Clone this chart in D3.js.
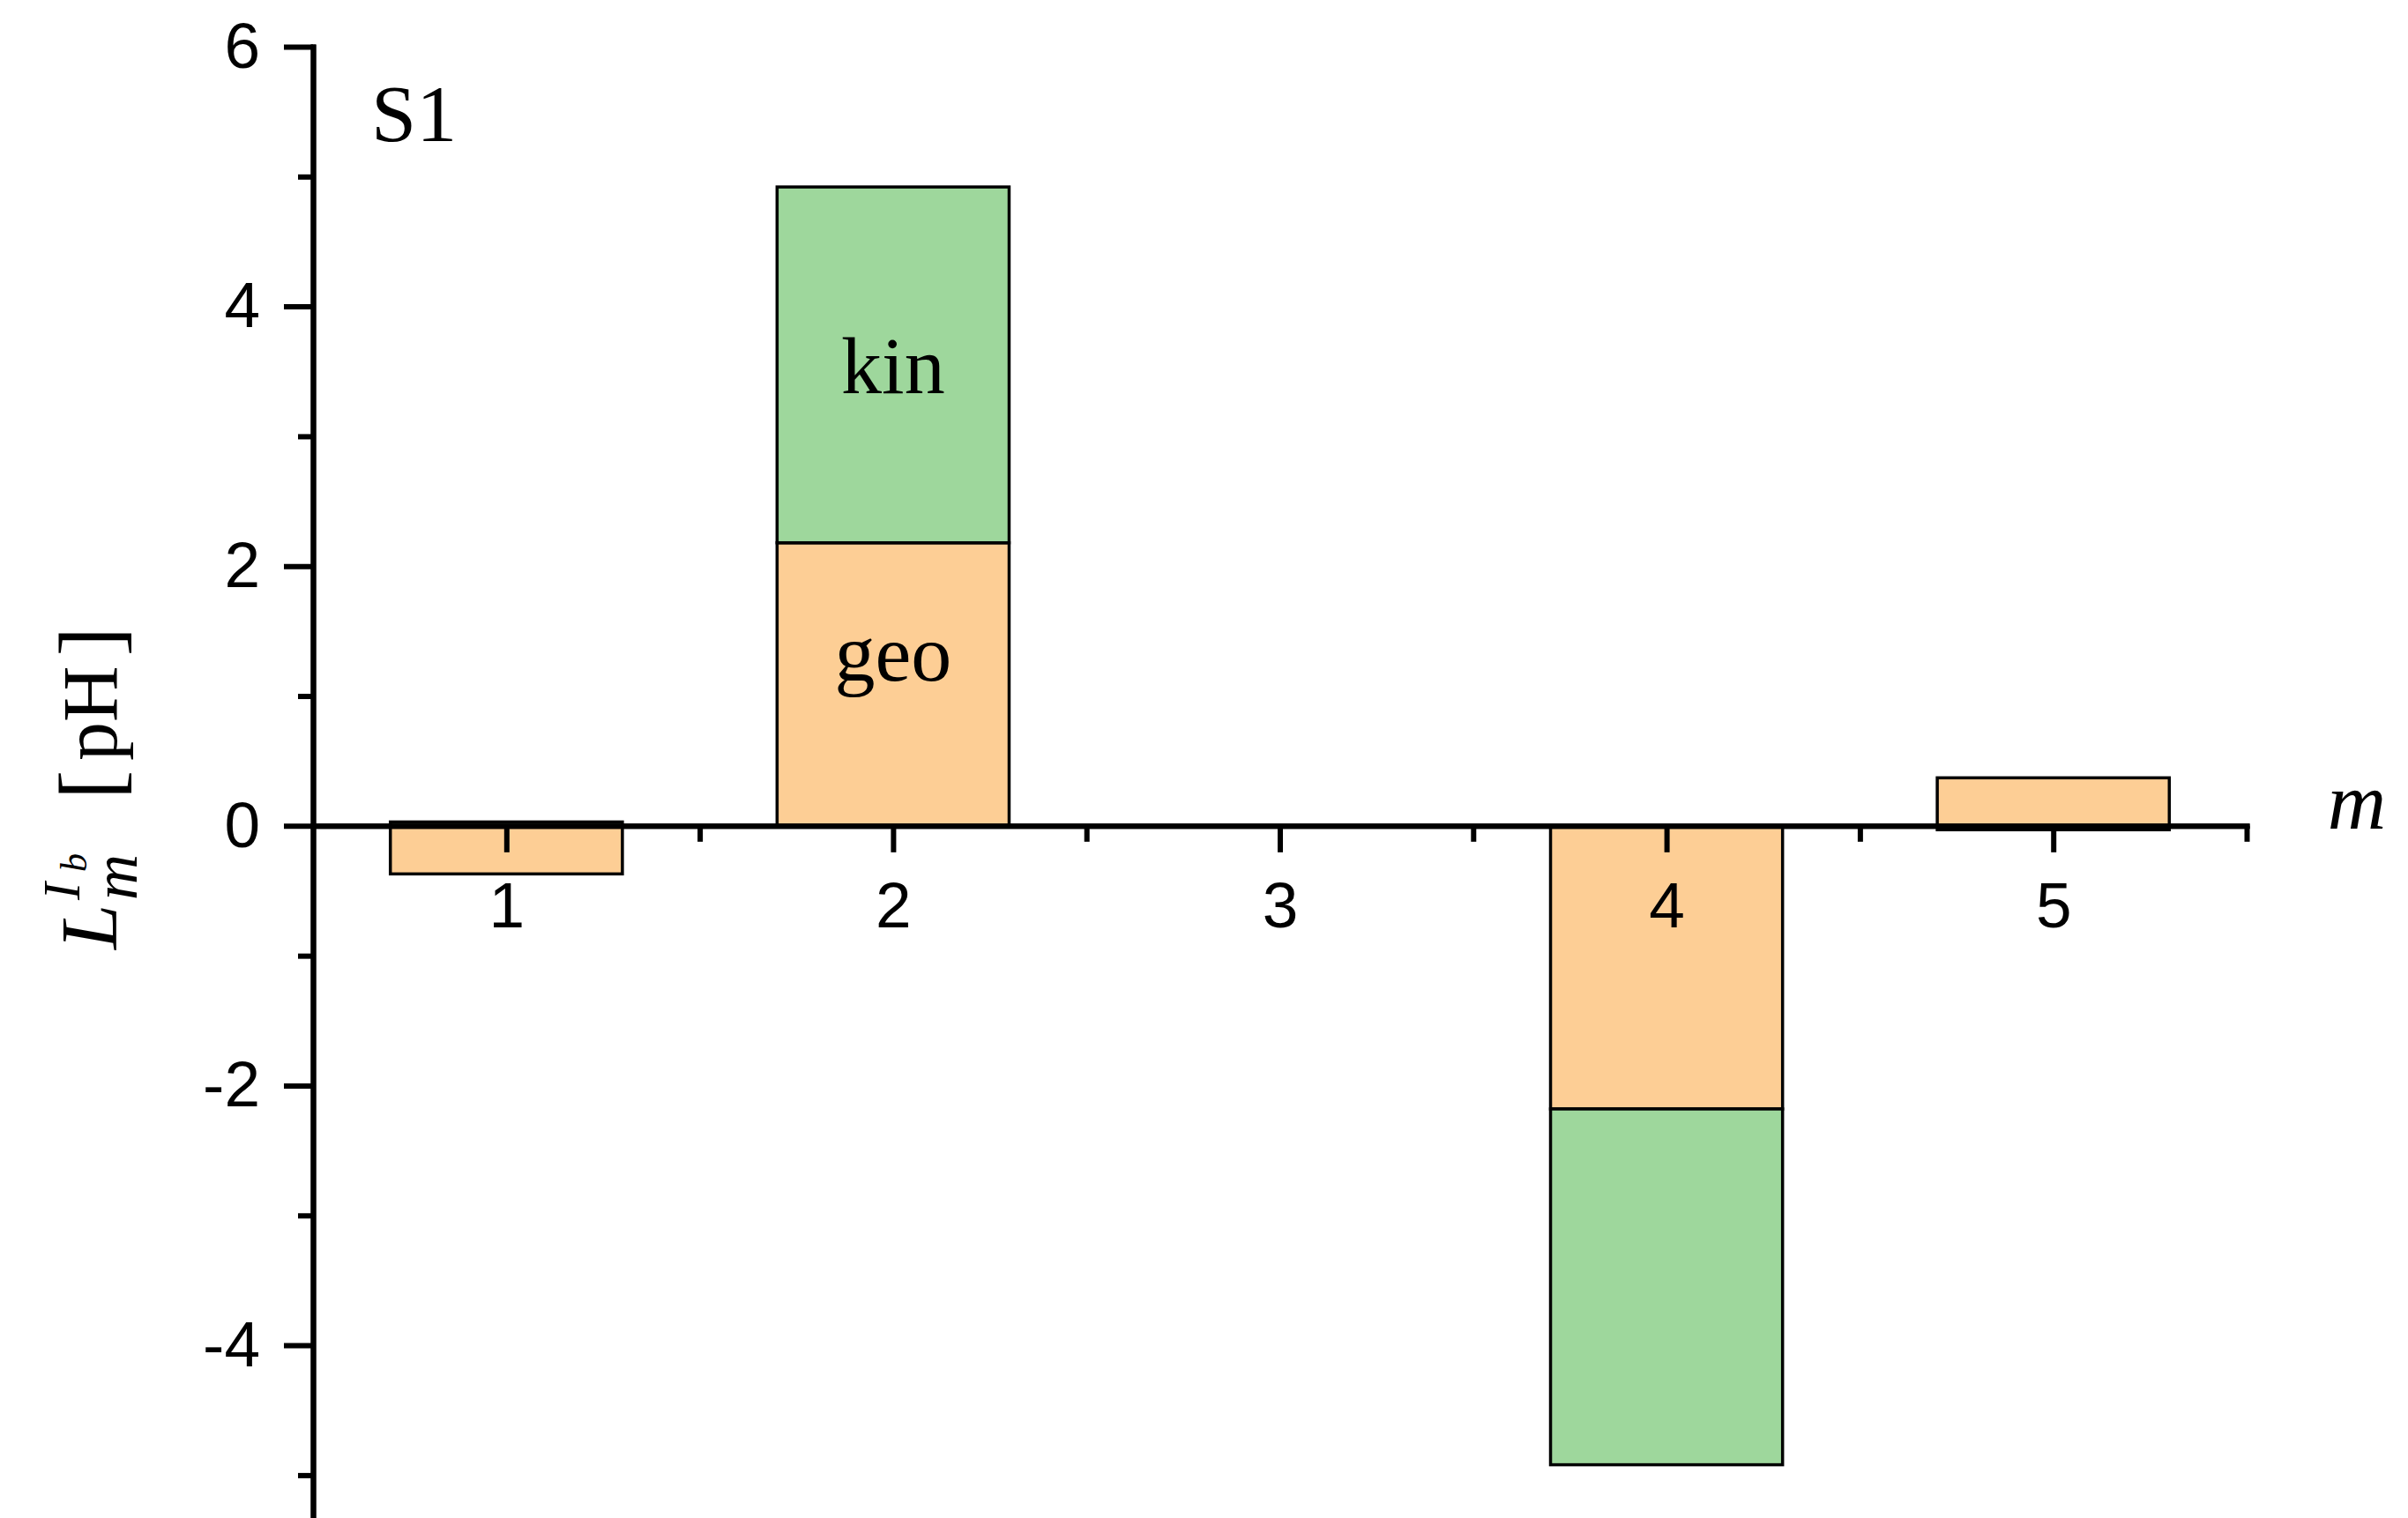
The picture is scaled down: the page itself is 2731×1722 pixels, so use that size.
<!DOCTYPE html>
<html>
<head>
<meta charset="utf-8">
<script src="https://cdn.jsdelivr.net/npm/d3@7"></script>
<style>
  body { margin: 0; background: #fff; }
  svg text { fill: #000; }
</style>
</head>
<body>
<div id="chart"></div>
<script>
// data
const modes = [1, 2, 3, 4, 5];
const geoValues = [-0.37, 2.18, 0, -2.18, 0.37];
const kinValues = [0.03, 2.74, 0, -2.74, -0.03];
const yMajorTicks = [-4, -2, 0, 2, 4, 6];
const yMinorTicks = [-5, -3, -1, 1, 3, 5];
const xMinorTicks = [1.5, 2.5, 3.5, 4.5, 5.5];

const width = 2731;
const height = 1722;

const geoColor = "#FDCE95";
const kinColor = "#9ED79C";

const svg = d3.select("#chart")
  .append("svg")
  .attr("width", width)
  .attr("height", height);

// scales
const x = d3.scaleLinear().domain([0.5, 5.5]).range([355, 2548]);
const y = d3.scaleLinear().domain([-5.33, 6]).range([1722, 53]);
const barWidth = 0.6;

// stacked (diverging) bars
const rows = modes.map((m, i) => ({ m: m, geo: geoValues[i], kin: kinValues[i] }));
const stack = d3.stack()
  .keys(["geo", "kin"])
  .offset(d3.stackOffsetDiverging);
const series = stack(rows);
const colors = { geo: geoColor, kin: kinColor };

svg.append("g")
  .selectAll("g")
  .data(series)
  .enter().append("g")
  .attr("fill", d => colors[d.key])
  .selectAll("rect")
  .data(d => d.filter(s => s[1] - s[0] !== 0))
  .enter().append("rect")
  .attr("x", d => x(d.data.m - barWidth / 2))
  .attr("width", d => x(d.data.m + barWidth / 2) - x(d.data.m - barWidth / 2))
  .attr("y", d => y(Math.max(d[0], d[1])))
  .attr("height", d => Math.abs(y(d[0]) - y(d[1])))
  .attr("stroke", "#000")
  .attr("stroke-width", 3.5);

// plain hyphen for negative labels, like the original
const fmt = d => String(d);

// y axis
svg.append("g")
  .attr("transform", "translate(" + x(0.5) + ",0)")
  .call(d3.axisLeft(y).tickValues(yMajorTicks).tickSize(33).tickSizeOuter(0).tickPadding(27).tickFormat(fmt));
svg.append("g")
  .attr("transform", "translate(" + x(0.5) + ",0)")
  .call(d3.axisLeft(y).tickValues(yMinorTicks).tickSize(17).tickSizeOuter(0).tickFormat(""));

// x axis along zero
svg.append("g")
  .attr("transform", "translate(0," + y(0) + ")")
  .call(d3.axisBottom(x).tickValues(modes).tickSize(30).tickSizeOuter(0).tickPadding(33).tickFormat(fmt));
svg.append("g")
  .attr("transform", "translate(0," + y(0) + ")")
  .call(d3.axisBottom(x).tickValues(xMinorTicks).tickSize(18).tickSizeOuter(0).tickFormat(""));

svg.selectAll(".domain").attr("stroke", "#000").attr("stroke-width", 6).attr("stroke-linecap", "square");
svg.selectAll(".tick line").attr("stroke", "#000").attr("stroke-width", 6);
svg.selectAll(".tick text")
  .attr("font-family", "'Liberation Sans', Arial, sans-serif")
  .attr("font-size", 73)
  .style("fill", "#000");

// text annotations
const serif = "'Liberation Serif', 'Times New Roman', serif";

svg.append("text")
  .attr("x", 421).attr("y", 160)
  .attr("font-family", serif).attr("font-size", 92)
  .text("S1");

svg.append("text")
  .attr("x", x(2)).attr("y", 446)
  .attr("text-anchor", "middle")
  .attr("font-family", serif).attr("font-size", 92)
  .text("kin");

svg.append("text")
  .attr("x", x(2)).attr("y", 772)
  .attr("text-anchor", "middle")
  .attr("font-family", serif).attr("font-size", 92)
  .text("geo");

svg.append("text")
  .attr("x", 2673).attr("y", 940)
  .attr("text-anchor", "middle")
  .attr("font-family", serif).attr("font-size", 92)
  .attr("font-style", "italic")
  .text("m");

// y label: L_m^{I_b} [pH], rotated
const yl = svg.append("g")
  .attr("transform", "translate(132,1077) rotate(-90)")
  .attr("font-family", serif);

yl.append("text").attr("x", 0).attr("y", 0)
  .attr("font-size", 92).attr("font-style", "italic").text("L");
yl.append("text").attr("x", 56).attr("y", -42)
  .attr("font-size", 60).attr("font-style", "italic").text("I");
yl.append("text").attr("x", 88).attr("y", -34)
  .attr("font-size", 42).attr("font-style", "italic").text("b");
yl.append("text").attr("x", 56).attr("y", 23)
  .attr("font-size", 72).attr("font-style", "italic").text("m");
yl.append("text").attr("x", 170).attr("y", 4)
  .attr("font-size", 100).text("[");
yl.append("text").attr("x", 214).attr("y", 0)
  .attr("font-size", 88).text("pH");
yl.append("text").attr("x", 366).attr("y", 4)
  .attr("text-anchor", "end")
  .attr("font-size", 100).text("]");
</script>
</body>
</html>
